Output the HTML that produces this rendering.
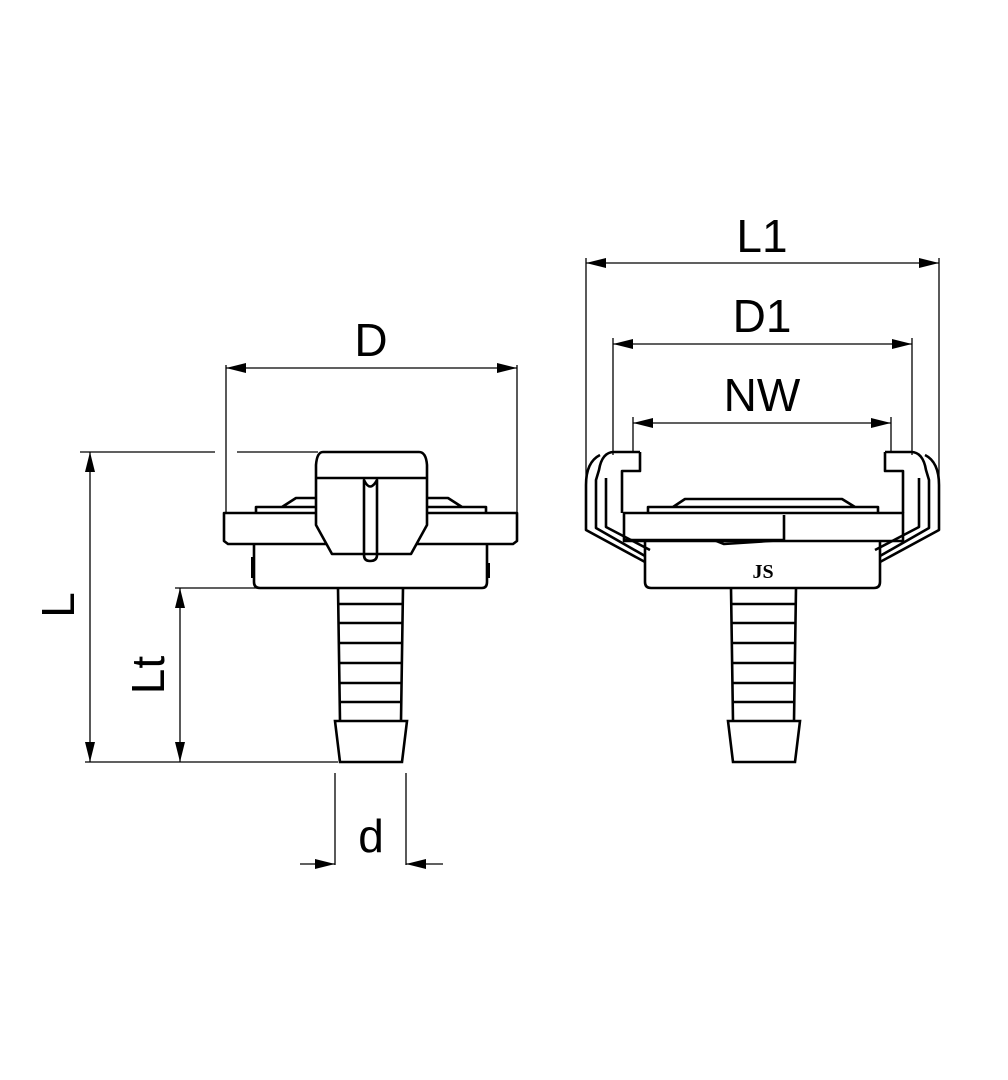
<!DOCTYPE html>
<html><head><style>body{margin:0;background:#fff}svg{display:block}</style></head><body>
<svg width="1008" height="1080" viewBox="0 0 1008 1080" xmlns="http://www.w3.org/2000/svg">
<defs>
<marker id="a" viewBox="0 0 20 10" refX="20" refY="5" markerWidth="20" markerHeight="10" markerUnits="userSpaceOnUse" orient="auto-start-reverse"><path d="M0,0 L20,5 L0,10 Z" fill="#000"/></marker>
<g id="tail" fill="none" stroke="#000" stroke-width="2.6">
<path d="M338,588 L340,721 M403,588 L401,721"/>
<path d="M339,604H402 M339,623H402 M339,643H402 M339,663H402 M339,683H402 M340,702H401"/>
<path d="M335,721 H407 L402,762 H340 Z"/>
</g>
</defs>
<g font-family="Liberation Sans, sans-serif" font-size="46" fill="#000" text-anchor="middle">
<text x="371" y="356">D</text>
<text x="371" y="852">d</text>
<text x="762" y="252">L1</text>
<text x="762" y="332">D1</text>
<text x="762" y="411">NW</text>
<text transform="translate(74,605) rotate(-90)">L</text>
<text transform="translate(164,675) rotate(-90)">Lt</text>
</g>
<g stroke="#000" stroke-width="1.3" fill="none">
<path d="M226,365V512 M517,365V512"/>
<path d="M226,368H517" marker-start="url(#a)" marker-end="url(#a)"/>
<path d="M80,452H215 M237,452H318 M85,762H338 M175,588H338"/>
<path d="M90,452V762" marker-start="url(#a)" marker-end="url(#a)"/>
<path d="M180,588V762" marker-start="url(#a)" marker-end="url(#a)"/>
<path d="M335,773V865 M406,773V865"/>
<path d="M300,864H335" marker-end="url(#a)"/>
<path d="M443,864H406" marker-end="url(#a)"/>
<path d="M586,258V495 M939,258V495 M613,338V455 M912,338V455 M633,417V452 M891,417V452"/>
<path d="M586,263H939" marker-start="url(#a)" marker-end="url(#a)"/>
<path d="M613,344H912" marker-start="url(#a)" marker-end="url(#a)"/>
<path d="M633,423H891" marker-start="url(#a)" marker-end="url(#a)"/>
</g>
<g fill="none" stroke="#000" stroke-width="2.6" stroke-linejoin="round">
<path d="M256,513V507H486V513 M282,507L296,498H316 M428,498H448L462,507"/>
<path d="M224,513H517V541L513,544H228L224,541Z" fill="#fff"/>
<path d="M254,544V582Q254,588 260,588H482Q487,588 487,582V544"/>
<path d="M253,557V578 M488,563V578" stroke-width="4"/>
<path d="M323,452H419Q426,452 427,465V525L411,554H332L316,525V465Q317,452 323,452Z" fill="#fff"/>
<path d="M316,478H427"/>
<path d="M364,480V555Q364,561 370,561Q377,561 377,555V480Q370,493 364,480Z"/>
</g>
<use href="#tail"/>
<g fill="none" stroke="#000" stroke-width="2.6" stroke-linejoin="round">
<path d="M648,513V507H878V513 M673,507L685,499H842L855,507"/>
<path d="M624,513H903V541H624Z"/>
<path d="M624,540H784V515 M714,540L724,544L784,540"/>
<path d="M645,541V582Q645,588 651,588H874Q880,588 880,582V541"/>
<path d="M640,452H614Q602,452 599,470Q596,480 596,480V528L645,556 M640,452V471H622V513"/>
<path d="M600,455Q586,462 586,485V530L645,562 M606,478V527L650,550"/>
<path d="M885,452H911Q923,452 926,470L929,480V528L880,556 M885,452V471H903V513"/>
<path d="M925,455Q939,462 939,485V530L880,562 M919,478V527L875,550"/>
</g>
<text x="763" y="578" font-family="Liberation Serif, serif" font-weight="bold" font-size="20" text-anchor="middle">JS</text>
<use href="#tail" transform="translate(393,0)"/>
</svg>
</body></html>
